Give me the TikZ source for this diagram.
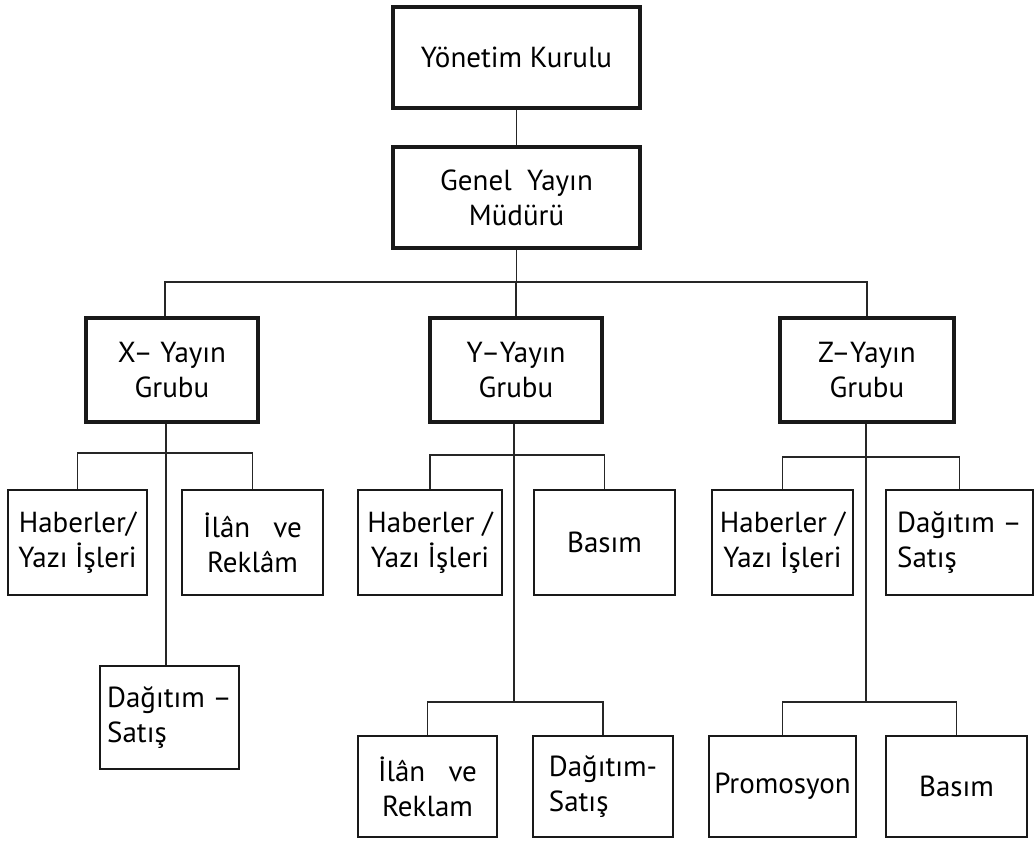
\documentclass[tikz,border=0pt]{standalone}
\usepackage{fontspec}
\setmainfont{PT Sans}
\begin{document}
\begin{tikzpicture}[x=1pt,y=1pt,
  every node/.style={font=\fontsize{29}{35}\selectfont, align=center, inner sep=0pt},
  unit/.style={draw=black!90, line width=1.8pt, rectangle},
  headunit/.style={draw=black!90, line width=4pt, rectangle},
  lefttext/.style={align=left},
  link/.style={draw=black!85, line width=1.7pt}]
\useasboundingbox (0,0) rectangle (1035,840);

% board and general manager
\node[headunit, minimum width=247, minimum height=101] (yk) at (516.5,782.5) {Yönetim Kurulu};
\node[headunit, minimum width=247, minimum height=101] (gm) at (516.5,642.5) {Genel\ \ Yayın\\Müdürü};

% publication groups
\node[headunit, minimum width=172, minimum height=104] (xg) at (172,470) {X– Yayın\\Grubu};
\node[headunit, minimum width=172, minimum height=104] (yg) at (516,470) {Y–Yayın\\Grubu};
\node[headunit, minimum width=174, minimum height=104] (zg) at (867,470) {Z–Yayın\\Grubu};

% X group departments
\node[unit, minimum width=139, minimum height=105] (xh) at (77.5,297.5) {Haberler/\\Yazı İşleri};
\node[unit, minimum width=141, minimum height=105] (xi) at (252.5,297.5) {İlân\ \ \ ve\\Reklâm};
\node[unit, lefttext, minimum width=139, minimum height=103] (xd) at (169.5,122.5) {Dağıtım –\\Satış};

% Y group departments
\node[unit, minimum width=144, minimum height=105] (yh) at (430,297.5) {Haberler /\\Yazı İşleri};
\node[unit, minimum width=141, minimum height=105] (yb) at (604.5,297.5) {Basım};
\node[unit, minimum width=139, minimum height=101] (yi) at (427.5,53.5) {İlân\ \ \ ve\\Reklam};
\node[unit, lefttext, minimum width=140, minimum height=101] (yd) at (603,53.5) {Dağıtım-\\Satış};

% Z group departments
\node[unit, minimum width=141, minimum height=105] (zh) at (782.5,297.5) {Haberler /\\Yazı İşleri};
\node[unit, lefttext, minimum width=147, minimum height=105] (zd) at (959.5,297.5) {Dağıtım –\\Satış};
\node[unit, minimum width=147, minimum height=101] (zp) at (782.5,53.5) {Promosyon};
\node[unit, minimum width=141, minimum height=101] (zb) at (956.5,53.5) {Basım};

% bus junctions
\coordinate (bus)  at (516,558);
\coordinate (xbus) at (166,387);
\coordinate (ybus) at (514,385);
\coordinate (ylow) at (514,138);
\coordinate (zbus) at (866,383);
\coordinate (zlow) at (866,138);

% top chain
\draw[link] (yk.south) -- (gm.north);
\draw[link] (gm.south) -- (gm.south |- bus);
\draw[link] ([xshift=-7pt]xg.north) |- (bus) -| (zg.north);
\draw[link] (bus) -- (yg.north);

% X branch
\draw[link] (xh.north) |- (xbus) -| (xi.north);
\draw[link] (xbus |- xg.south) -- (xbus |- xd.north);

% Y branch
\draw[link] (yh.north) |- (ybus) -| (yb.north);
\draw[link] (ybus |- yg.south) -- (ylow);
\draw[link] (yi.north) |- (ylow) -| (yd.north);

% Z branch
\draw[link] (zh.north) |- (zbus) -| (zd.north);
\draw[link] (zbus |- zg.south) -- (zlow);
\draw[link] (zp.north) |- (zlow) -| (zb.north);
\end{tikzpicture}
\end{document}
